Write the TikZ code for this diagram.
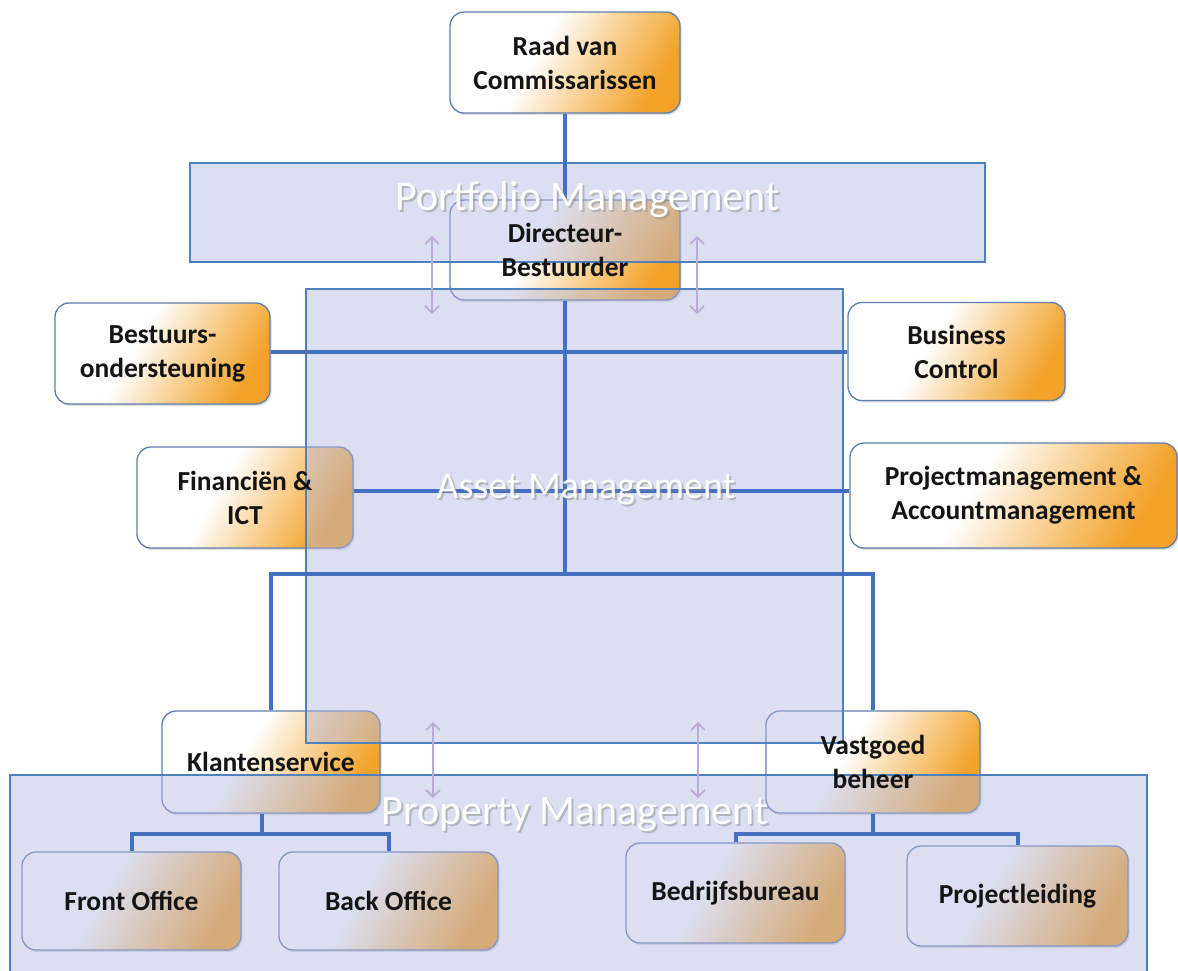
\documentclass[tikz,border=0pt]{standalone}
\usepackage{fontspec}
\setmainfont{Carlito}
\usetikzlibrary{arrows.meta,shadows,calc}
\definecolor{linkblue}{RGB}{68,112,192}
\definecolor{bandfill}{RGB}{178,184,224}
\definecolor{bandedge}{RGB}{79,129,189}
\definecolor{boxedge}{RGB}{95,125,175}
\definecolor{orng}{RGB}{242,162,40}
\definecolor{arrowpurple}{RGB}{185,170,215}
\pgfdeclarehorizontalshading{boxshade}{100bp}{color(0bp)=(white); color(25bp)=(white); color(42bp)=(white); color(58bp)=(orng!50); color(75bp)=(orng); color(100bp)=(orng)}
\tikzset{
  orgbox/.style={rounded corners=14pt, draw=boxedge, line width=1.3pt,
    shading=boxshade, shading angle=-30,
    drop shadow={shadow xshift=1.5pt, shadow yshift=-2pt, opacity=0.25}},
  boxtext/.style={align=center, font=\bfseries\fontsize{27.5}{34}\selectfont, text=black!92},
  link/.style={draw=linkblue, line width=4pt},
  band/.style={draw=bandedge, line width=1.1pt, fill=bandfill, fill opacity=0.45},
  bandlabel/.style={text=white},
  bandshadow/.style={text=black!45, opacity=0.5},
  twoway/.style={draw=arrowpurple, line width=1.6pt,
    {Straight Barb[length=7pt,width=14pt]}-{Straight Barb[length=7pt,width=14pt]}}
}
\begin{document}
\begin{tikzpicture}[x=1pt,y=-1pt]
\useasboundingbox (0,0) rectangle (1178,970);
\clip (0,0) rectangle (1178,970);
\fill[white] (0,0) rectangle (1178,970);
% box shapes
\node[orgbox, minimum width=230, minimum height=101] (raad) at (565,62.5) {};
\node[orgbox, minimum width=230, minimum height=100] (dir) at (565,250) {};
\node[orgbox, minimum width=215, minimum height=101] (best) at (162.5,353.5) {};
\node[orgbox, minimum width=217, minimum height=98] (bc) at (956.5,351.5) {};
\node[orgbox, minimum width=216, minimum height=101] (fin) at (245,497.5) {};
\node[orgbox, minimum width=327, minimum height=105] (pm) at (1013.5,495.5) {};
\node[orgbox, minimum width=218, minimum height=102] (kl) at (271,762) {};
\node[orgbox, minimum width=214, minimum height=102] (vg) at (873,762) {};
\node[orgbox, minimum width=219, minimum height=98] (fo) at (131.5,901) {};
\node[orgbox, minimum width=219, minimum height=98] (bo) at (388.5,901) {};
\node[orgbox, minimum width=219, minimum height=100] (bb) at (735.5,893) {};
\node[orgbox, minimum width=221, minimum height=100] (pl) at (1017.5,896) {};
% bands
\node[band, minimum width=795, minimum height=99, inner sep=0pt] (pf) at (587.5,212.5) {};
\node[band, minimum width=537, minimum height=454, inner sep=0pt] (am) at (574.5,516) {};
\node[band, minimum width=1137, minimum height=215, inner sep=0pt] (prm) at (578.5,882.5) {};
% connectors
\coordinate (trunk) at (565,574);
\draw[link] (raad.south) -- (dir.north);
\draw[link] (dir.south) -- (trunk);
\draw[link] (best.east |- 0,352) -- (bc.west |- 0,352);
\draw[link] (fin.east |- 0,491) -- (pm.west |- 0,491);
\draw[link] (kl.north) |- (trunk) -| (vg.north);
\coordinate (kljoin) at (262,834);
\draw[link] (kl.south -| kljoin) -- (kljoin);
\draw[link] (fo.north) |- (kljoin) -| (bo.north);
\coordinate (vgjoin) at (873,834);
\draw[link] (vg.south) -- (vgjoin);
\draw[link] (bb.north) |- (vgjoin) -| (pl.north);
% band labels
\node[bandshadow, font=\fontsize{42}{44}\selectfont] (pfs) at (589.5,202) {Portfolio Management};
\node[bandlabel, font=\fontsize{42}{44}\selectfont] (pfl) at (587.5,200) {Portfolio Management};
\node[bandshadow, font=\fontsize{38}{40}\selectfont] (ams) at (588,492) {Asset Management};
\node[bandlabel, font=\fontsize{38}{40}\selectfont] (aml) at (586,490) {Asset Management};
\node[bandshadow, font=\fontsize{42}{44}\selectfont] (prs) at (577,817) {Property Management};
\node[bandlabel, font=\fontsize{42}{44}\selectfont] (prl) at (575,815) {Property Management};
% box texts
\node[boxtext] (raadt) at (raad) {Raad van\\Commissarissen};
\node[boxtext] (dirt) at (dir) {Directeur-\\Bestuurder};
\node[boxtext] (bestt) at (best) {Bestuurs-\\ondersteuning};
\node[boxtext] (bct) at (bc) {Business\\Control};
\node[boxtext] (fint) at (fin) {Financiën \&\\ICT};
\node[boxtext] (pmt) at (pm) {Projectmanagement \&\\Accountmanagement};
\node[boxtext] (klt) at (kl) {Klantenservice};
\node[boxtext] (vgt) at (vg) {Vastgoed\\beheer};
\node[boxtext] (fot) at (fo) {Front Office};
\node[boxtext] (bot) at (bo) {Back Office};
\node[boxtext] (bbt) at (bb) {Bedrijfsbureau};
\node[boxtext] (plt) at (pl) {Projectleiding};
% two-way arrows
\coordinate (a1t) at (432,236); \coordinate (a1b) at (432,314);
\coordinate (a2t) at (697,236); \coordinate (a2b) at (697,314);
\coordinate (a3t) at (433,722); \coordinate (a3b) at (433,798);
\coordinate (a4t) at (698,722); \coordinate (a4b) at (698,798);
\draw[twoway] (a1t) -- (a1b);
\draw[twoway] (a2t) -- (a2b);
\draw[twoway] (a3t) -- (a3b);
\draw[twoway] (a4t) -- (a4b);
\end{tikzpicture}
\end{document}
